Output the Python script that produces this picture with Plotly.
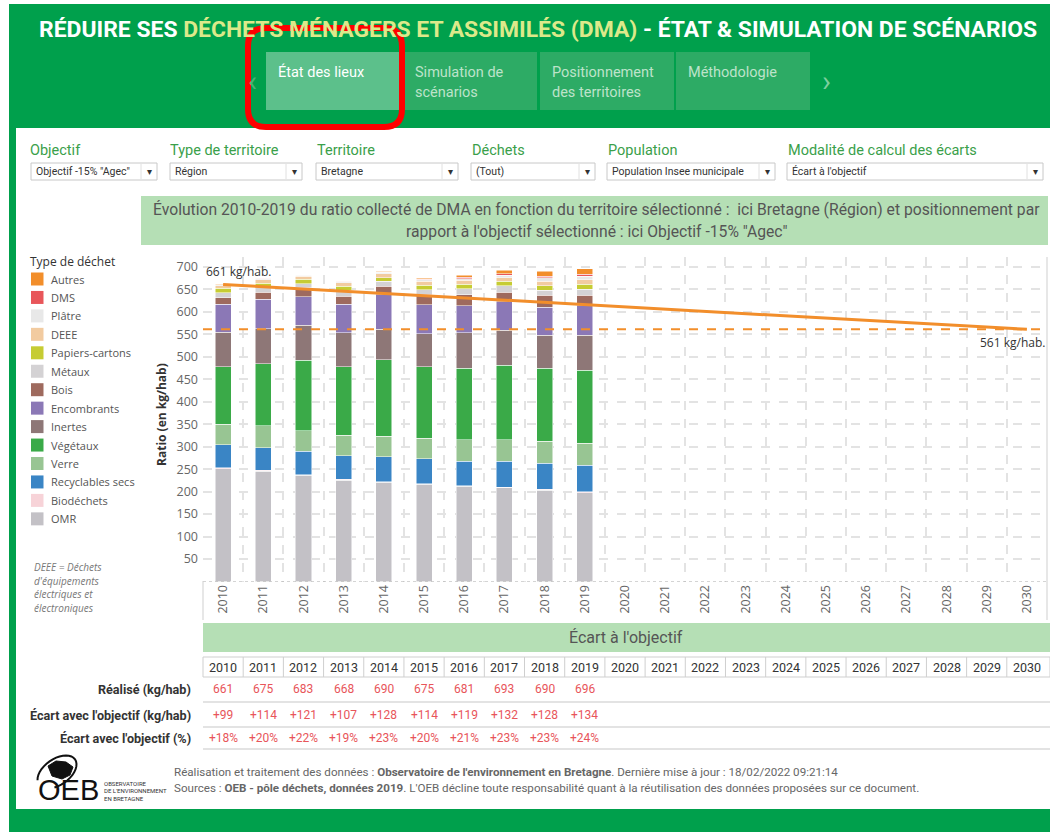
import math
import plotly.graph_objects as go

# ---------------- data ----------------
years_hist = ['2010', '2011', '2012', '2013', '2014', '2015', '2016', '2017', '2018', '2019']
years_all = ['2010', '2011', '2012', '2013', '2014', '2015', '2016', '2017', '2018', '2019',
             '2020', '2021', '2022', '2023', '2024', '2025', '2026', '2027', '2028', '2029', '2030']

omr = [251, 245.5, 236, 225.5, 221, 216, 211.5, 209, 203, 197]
biodechets = [2, 1.5, 1.5, 1.5, 1.5, 2, 1, 1, 2, 2.5]
recyclables = [51, 51, 52, 53, 55, 55, 55.5, 58, 58, 59.5]
verre = [46, 48, 45.5, 45, 45.5, 45.5, 47, 47, 49.5, 49]
vegetaux = [128, 139, 157, 153, 170, 159.5, 159, 166.5, 161.5, 161.5]
inertes = [77, 77.5, 78, 75, 68, 73.5, 79, 77.5, 74, 78.5]
encombrants = [62, 65.5, 64, 64, 77, 64.5, 60.5, 63.5, 62.5, 65]
bois = [14, 16, 20, 18, 19, 23, 24, 21.5, 26, 23.5]
metaux = [11, 12, 9, 13, 11, 10, 13.5, 14, 11, 13.5]
papiers = [10, 8, 9, 9, 8, 10, 10, 10.5, 11, 11]
deee = [6, 7.5, 7, 8, 9, 9, 9, 7.5, 9.5, 10.5]
platre = [2, 2.5, 2, 2, 3, 3, 3.5, 5, 8, 7.5]
dms = [0.5, 0.6, 1.5, 0.7, 1.5, 1, 3.5, 4, 3, 4.5]
autres = [0.5, 0.4, 0.5, 0.3, 0.5, 3, 4, 8, 11, 12.5]

# stack order, bottom -> top
series_names = ['OMR', 'Biodéchets', 'Recyclables secs', 'Verre', 'Végétaux', 'Inertes',
                'Encombrants', 'Bois', 'Métaux', 'Papiers-cartons', 'DEEE', 'Plâtre', 'DMS', 'Autres']
series_values = [omr, biodechets, recyclables, verre, vegetaux, inertes, encombrants, bois,
                 metaux, papiers, deee, platre, dms, autres]
series_colors = ['#C3C1C6', '#F7D3D8', '#3A85C5', '#98C593', '#3AAA48', '#8E7777', '#8B78B6',
                 '#9E6A5E', '#D4D2D4', '#C6CC33', '#F2CBA0', '#E8E8E8', '#E8565A', '#F28E2B']

traj_years = ['2010', '2030']
traj_values = [661, 561]
objective_value = 561

y_ticks = [50, 100, 150, 200, 250, 300, 350, 400, 450, 500, 550, 600, 650, 700]

realise = [661, 675, 683, 668, 690, 675, 681, 693, 690, 696]
ecart_kg = ['+99', '+114', '+121', '+107', '+128', '+114', '+119', '+132', '+128', '+134']
ecart_pct = ['+18%', '+20%', '+22%', '+19%', '+23%', '+20%', '+21%', '+23%', '+23%', '+24%']

# ---------------- helpers ----------------
W, H = 1050, 832
NARROW = 'Roboto, sans-serif'
BOOK = 'Open Sans, Noto Sans, sans-serif'
GREEN = '#00A04C'
ORANGE = '#F28E2B'


def X(p):
    return p / W


def Y(p):
    return 1 - p / H


def cat(label):
    return years_all.index(label)


shapes = []
annotations = []


def rect(x0, y0, x1, y1, fill=None, line=None, lw=0, layer='below'):
    shapes.append(dict(type='rect', xref='paper', yref='paper', x0=X(x0), x1=X(x1), y0=Y(y1), y1=Y(y0),
                       fillcolor=fill if fill else 'rgba(0,0,0,0)',
                       line=dict(color=line if line else 'rgba(0,0,0,0)', width=lw), layer=layer))


def hline(x0, x1, y, color, w=1, dash='solid', layer='above'):
    shapes.append(dict(type='line', xref='paper', yref='paper', x0=X(x0), x1=X(x1), y0=Y(y), y1=Y(y),
                       line=dict(color=color, width=w, dash=dash), layer=layer))


def vline(x, y0, y1, color, w=1, layer='above'):
    shapes.append(dict(type='line', xref='paper', yref='paper', x0=X(x), x1=X(x), y0=Y(y0), y1=Y(y1),
                       line=dict(color=color, width=w), layer=layer))


def text(x, y, t, size=12, color='#333', xanchor='left', yanchor='middle', family=NARROW, angle=0):
    annotations.append(dict(xref='paper', yref='paper', x=X(x), y=Y(y), text=t, showarrow=False,
                            xanchor=xanchor, yanchor=yanchor, textangle=angle,
                            font=dict(size=size, color=color, family=family)))


# ---------------- page frame ----------------
rect(9, 4, 1050, 832, fill=GREEN)
rect(16, 128, 1050, 809, fill='white')

# header title
text(538, 30, "<b>RÉDUIRE SES <span style='color:#DCE98A'>DÉCHETS MÉNAGERS ET ASSIMILÉS (DMA)</span>"
              " - ÉTAT &amp; SIMULATION DE SCÉNARIOS</b>", size=22.9, color='white', xanchor='center')

# tabs
tabs = [(266, ['État des lieux'], True), (403, ['Simulation de', 'scénarios'], False),
        (540, ['Positionnement', 'des territoires'], False), (676, ['Méthodologie'], False)]
for x0, lines, active in tabs:
    rect(x0, 52, x0 + 134, 110, fill='#5CC08B' if active else '#2DAB65')
    for i, ln in enumerate(lines):
        text(x0 + 10, 72 + 20 * i, ln, size=14.5, color='white' if active else '#BDE3CA')
text(252, 80, '‹', size=30, color='#46B574', xanchor='center')
text(826, 80, '›', size=30, color='#7CCF9E', xanchor='center')

# red highlight box (rounded)
rx0, ry0, rx1, ry1, r = 248, 28, 402, 127, 18
path = (f"M {X(rx0 + r)} {Y(ry0)} L {X(rx1 - r)} {Y(ry0)} Q {X(rx1)} {Y(ry0)} {X(rx1)} {Y(ry0 + r)} "
        f"L {X(rx1)} {Y(ry1 - r)} Q {X(rx1)} {Y(ry1)} {X(rx1 - r)} {Y(ry1)} "
        f"L {X(rx0 + r)} {Y(ry1)} Q {X(rx0)} {Y(ry1)} {X(rx0)} {Y(ry1 - r)} "
        f"L {X(rx0)} {Y(ry0 + r)} Q {X(rx0)} {Y(ry0)} {X(rx0 + r)} {Y(ry0)} Z")
shapes.append(dict(type='path', xref='paper', yref='paper', path=path,
                   line=dict(color='#FF0000', width=6), layer='above'))

# filters
filters = [(28, 31, 157, 'Objectif', 'Objectif -15% "Agec"'),
           (168, 170, 302, 'Type de territoire', 'Région'),
           (315, 316, 458, 'Territoire', 'Bretagne'),
           (470, 471, 595, 'Déchets', '(Tout)'),
           (606, 607, 775, 'Population', 'Population Insee municipale'),
           (786, 787, 1043, 'Modalité de calcul des écarts', "Écart à l'objectif")]
for lx, bx0, bx1, lab, val in filters:
    text(lx, 151, lab, size=14.5, color='#3AA04A')
    rect(bx0, 163, bx1, 180, fill='white', line='#C8C8C8', lw=1)
    vline(bx1 - 16, 164, 179, '#E0E0E0')
    text(bx0 + 3, 172, val, size=10.5, color='#333')
    text(bx1 - 8, 172, '▾', size=10, color='#333', xanchor='center')

# chart title box
rect(141, 196, 1048, 245, fill='#B5DFB5')
text(596, 209, "Évolution 2010-2019 du ratio collecté de DMA en fonction du territoire sélectionné :  "
               "ici Bretagne (Région) et positionnement par", size=15.7, color='#555', xanchor='center')
text(596, 231, "rapport à l'objectif sélectionné : ici Objectif -15% \"Agec\"", size=15.7, color='#555',
     xanchor='center')

# legend (custom)
text(28, 261, 'Type de déchet', size=12, color='#333', family=BOOK)
legend_order = list(range(len(series_names)))[::-1]
for i, k in enumerate(legend_order):
    yc = 279 + i * 18.45
    rect(31, yc - 6.5, 43.5, yc + 6.5, fill=series_colors[k], layer='above')
    text(49, yc, series_names[k], size=11, color='#555', family=BOOK)

for i, ln in enumerate(['DEEE = Déchets', "d'équipements", 'électriques et', 'électroniques']):
    text(32, 567 + i * 13.7, f'<i>{ln}</i>', size=10, color='#777', family=BOOK)

# axis title
text(162, 415, '<b>Ratio (en kg/hab)</b>', size=12, color='#333', xanchor='center', family=BOOK, angle=-90)

# ---------------- chart ----------------
fig = go.Figure()
for name, vals, col in zip(series_names, series_values, series_colors):
    fig.add_trace(go.Bar(x=years_hist, y=vals, name=name, marker=dict(color=col, line=dict(color='white', width=0.5)),
                         width=0.4, showlegend=False))

fig.add_trace(go.Scatter(x=traj_years, y=traj_values, mode='lines', line=dict(color=ORANGE, width=3),
                         showlegend=False))

shapes.append(dict(type='line', xref='x domain', yref='y', x0=0, x1=1, y0=objective_value, y1=objective_value,
                   line=dict(color=ORANGE, width=2, dash='dash'), layer='above'))
# baseline (dotted)
shapes.append(dict(type='line', xref='x domain', yref='y', x0=0, x1=1, y0=0, y1=0,
                   line=dict(color='#AAAAAA', width=1, dash='dot'), layer='above'))
vline(203, 581, 620, '#CFCFCF')
vline(1047, 257, 620, '#CFCFCF')

annotations.append(dict(xref='x', yref='y', x=cat(traj_years[0]), y=traj_values[0],
                        text=f'{traj_values[0]} kg/hab.', showarrow=False, xanchor='left', yanchor='middle',
                        xshift=-19, yshift=13, font=dict(size=12, color='#333', family=BOOK)))
annotations.append(dict(xref='x', yref='y', x=cat(traj_years[1]), y=traj_values[1],
                        text=f'{traj_values[1]} kg/hab.', showarrow=False, xanchor='right', yanchor='middle',
                        xshift=20, yshift=-13, font=dict(size=12, color='#333', family=BOOK)))

# ---------------- table ----------------
rect(203, 623, 1050, 652, fill='#B5DFB5')
text(626, 637, "Écart à l'objectif", size=16, color='#555', xanchor='center')
rect(203, 657, 1050, 677, fill='white', line='#CFCFCF', lw=1)
for i in range(1, len(years_all)):
    shapes.append(dict(type='line', xref='x', yref='paper', x0=i - 0.5, x1=i - 0.5, y0=Y(677), y1=Y(657),
                       line=dict(color='#CFCFCF', width=1), layer='above'))
for yv in years_all:
    annotations.append(dict(xref='x', yref='paper', x=cat(yv), y=Y(667), text=yv, showarrow=False,
                            xanchor='center', yanchor='middle',
                            font=dict(size=12.5, color='#333', family=NARROW)))

rows = [('Réalisé (kg/hab)', [str(v) for v in realise], 689, 702),
        ("Écart avec l'objectif (kg/hab)", ecart_kg, 715, 727),
        ("Écart avec l'objectif (%)", ecart_pct, 738, 749)]
for lab, vals, yc, yl in rows:
    text(193, yc, f'<b>{lab}</b>', size=12.6, color='#333', xanchor='right')
    hline(203, 1050, yl, '#DADADA', w=1.5)
    for yv, v in zip(years_hist, vals):
        annotations.append(dict(xref='x', yref='paper', x=cat(yv), y=Y(yc), text=v, showarrow=False,
                                xanchor='center', yanchor='middle',
                                font=dict(size=12, color='#E8555A', family=NARROW)))

# ---------------- footer / logo ----------------
cx, cy, ax, ay, rot = 57, 772, 22, 13, math.radians(-35)
pts = []
for k in range(0, 29):
    t = math.radians(200 + k * 10)
    px_ = cx + ax * math.cos(t) * math.cos(rot) - ay * math.sin(t) * math.sin(rot)
    py_ = cy + ax * math.cos(t) * math.sin(rot) + ay * math.sin(t) * math.cos(rot)
    pts.append((px_, py_))
arc = 'M ' + ' L '.join(f'{X(a)} {Y(b)}' for a, b in pts)
shapes.append(dict(type='path', xref='paper', yref='paper', path=arc,
                   line=dict(color='#111', width=2), layer='above'))
shapes.append(dict(type='path', xref='paper', yref='paper',
                   path=f"M {X(48)} {Y(766)} L {X(56)} {Y(761)} L {X(66)} {Y(762)} L {X(73)} {Y(767)} "
                        f"L {X(70)} {Y(775)} L {X(62)} {Y(779)} L {X(52)} {Y(776)} Z",
                   fillcolor='#111', line=dict(color='#111', width=1), layer='above'))
text(36, 790, 'OEB', size=29, color='#111', family='Liberation Sans, sans-serif')
for i, ln in enumerate(['OBSERVATOIRE', "DE L'ENVIRONNEMENT", 'EN BRETAGNE']):
    text(102, 783 + i * 7.5, ln, size=6, color='#333', family=NARROW)

text(172, 772, "Réalisation et traitement des données : <b>Observatoire de l'environnement en Bretagne</b>. "
               "Dernière mise à jour : 18/02/2022 09:21:14", size=11.6, color='#666')
text(172, 788, "Sources : <b>OEB - pôle déchets, données 2019</b>. L'OEB décline toute responsabilité quant à "
               "la réutilisation des données proposées sur ce document.", size=11.6, color='#666')

# ---------------- layout ----------------
fig.update_layout(
    width=W, height=H, margin=dict(l=0, r=0, t=0, b=0),
    paper_bgcolor='white', plot_bgcolor='rgba(0,0,0,0)',
    barmode='stack', bargap=0.6,
    xaxis=dict(domain=[X(203), X(1047)], type='category', categoryorder='array', categoryarray=years_all,
               range=[-0.5, len(years_all) - 0.5], tickson='boundaries', showgrid=True, gridcolor='#E3E3E3',
               griddash='dash', gridwidth=1.5, tickangle=-90, ticks='', zeroline=False, showline=False,
               tickfont=dict(size=12.5, color='#666', family=BOOK), fixedrange=True),
    yaxis=dict(domain=[Y(581.5), Y(257)], range=[0, 722], tickvals=y_ticks, showgrid=True, gridcolor='#E3E3E3',
               griddash='dash', gridwidth=1.5, zeroline=False, showline=False, ticks='', ticklabelstandoff=4,
               tickfont=dict(size=12.5, color='#666', family=BOOK), fixedrange=True),
    shapes=shapes, annotations=annotations, showlegend=False,
)

fig.write_html("out.html", config={'displayModeBar': False},
               post_script="document.body.style.margin='0';document.body.style.overflow='hidden';")
